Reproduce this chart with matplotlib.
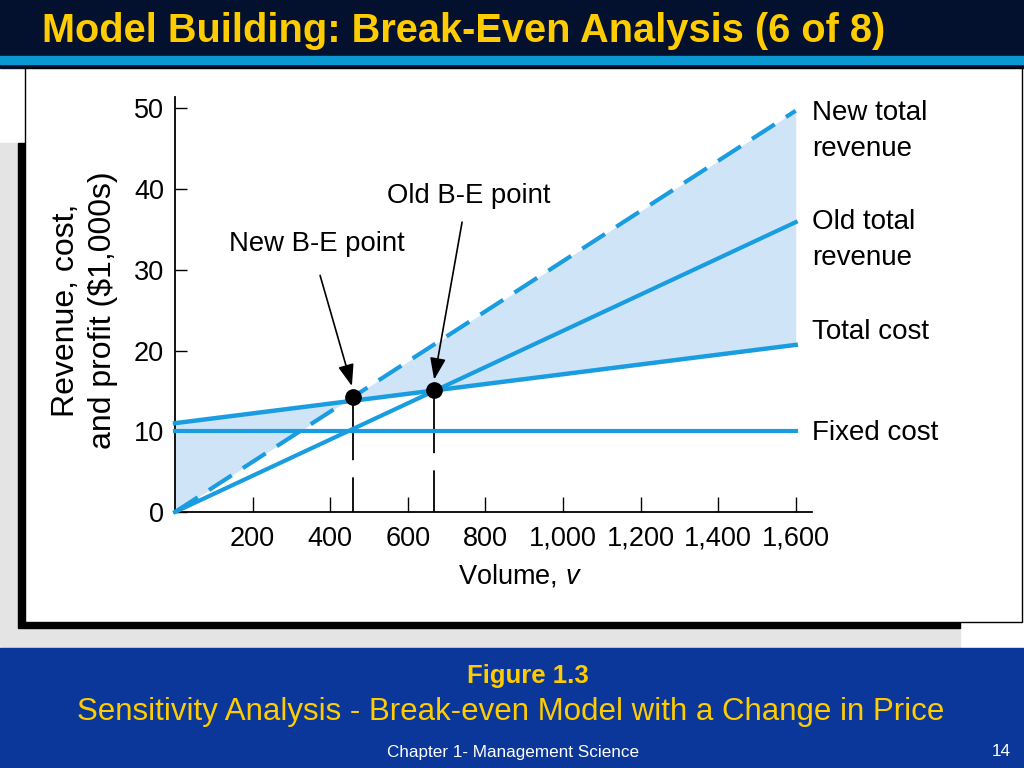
import matplotlib
matplotlib.use("Agg")
import matplotlib.pyplot as plt
from matplotlib.patches import Rectangle

# break-even model, values in $1,000s
volume = [0, 1600]
fixed_cost = [10, 10]
total_cost = [11.0, 20.7]
old_revenue = [0, 35.9]
new_revenue = [0, 49.7]

be_volume = [460, 667]
be_value = [14.2, 15.1]
be_names = ["New B-E point", "Old B-E point"]
be_label_pos = [(366, 33.2), (758, 39.2)]
be_arrow_start = [(374, 29.3), (740, 35.9)]
be_arrow_tip = [(456, 15.6), (668, 16.4)]

x_ticks = [200, 400, 600, 800, 1000, 1200, 1400, 1600]
y_ticks = [0, 10, 20, 30, 40, 50]

line_names = ["New total\nrevenue", "Old total\nrevenue", "Total cost", "Fixed cost"]
line_ends = [new_revenue[-1], old_revenue[-1], total_cost[-1], fixed_cost[-1]]
name_shift = [-14.5, -12.7, 9, -1]

BLUE = "#1a9de0"
FILL = "#cfe5f7"
YELLOW = "#ffcc00"
sans = ["Liberation Sans", "DejaVu Sans"]

plt.rcParams["mathtext.fontset"] = "custom"
plt.rcParams["mathtext.it"] = "Liberation Sans:italic"
plt.rcParams["mathtext.rm"] = "Liberation Sans"

fig = plt.figure(figsize=(10.24, 7.68), dpi=100)
fig.patch.set_facecolor("white")

# slide background, drawn in pixel units
bg = fig.add_axes([0, 0, 1, 1])
bg.set_xlim(0, 1024)
bg.set_ylim(768, 0)
bg.axis("off")
bg.add_patch(Rectangle((0, 0), 1024, 68, color="#03112f"))
bg.add_patch(Rectangle((0, 56), 1024, 8, color="#0a98d2"))
bg.add_patch(Rectangle((0, 143), 960, 505, color="#e4e4e4"))
bg.add_patch(Rectangle((18, 143), 942, 485, color="black"))
bg.add_patch(Rectangle((25, 68), 997, 554, facecolor="white", edgecolor="black", lw=1))
bg.add_patch(Rectangle((0, 648), 1024, 120, color="#0a3799"))
bg.text(42, 31, "Model Building: Break-Even Analysis (6 of 8)", color=YELLOW,
        fontsize=28.6, fontweight="bold", family=sans, va="center", ha="left")
bg.text(528, 676, "Figure 1.3", color=YELLOW, fontsize=18.5, fontweight="bold",
        family=sans, ha="center", va="center")
bg.text(511, 712, "Sensitivity Analysis - Break-even Model with a Change in Price",
        color=YELLOW, fontsize=22.5, family=sans, ha="center", va="center")
bg.text(513, 752, "Chapter 1- Management Science", color="white", fontsize=12.3,
        family=sans, ha="center", va="center")
bg.text(1001, 752, "14", color="white", fontsize=12.3, family=sans,
        ha="center", va="center")

ax = fig.add_axes([175 / 1024, 256 / 768, 637 / 1024, 415 / 768])
ax.set_facecolor("none")

ax.fill_between(volume, total_cost, new_revenue, color=FILL, lw=0, zorder=1)
ax.plot(volume, fixed_cost, color=BLUE, lw=3, clip_on=False, zorder=3)
ax.plot(volume, total_cost, color=BLUE, lw=3.2, clip_on=False, zorder=3)
ax.plot(volume, old_revenue, color=BLUE, lw=3, clip_on=False, zorder=3)
ax.plot(volume, new_revenue, color=BLUE, lw=3, ls=(0, (6.5, 3.2)),
        clip_on=False, zorder=3)

for v, y in zip(be_volume, be_value):
    ax.plot([v, v], [y, 0], color="black", lw=1.3, ls=(0, (35, 9.5)), zorder=2)
ax.plot(be_volume, be_value, "o", color="black", ms=11, zorder=5)

for name, pos, start, tip in zip(be_names, be_label_pos, be_arrow_start, be_arrow_tip):
    ax.text(pos[0], pos[1], name, fontsize=19.8, family=sans, ha="center", va="center")
    ax.annotate("", xy=tip, xytext=start,
                arrowprops=dict(arrowstyle="-|>,head_length=0.6,head_width=0.22",
                                color="black", lw=1.2, mutation_scale=22,
                                shrinkA=0, shrinkB=0), zorder=6)

for name, y, dy in zip(line_names, line_ends, name_shift):
    ax.annotate(name, xy=(volume[-1], y), xytext=(12, dy), textcoords="offset points",
                fontsize=20, family=sans, ha="left", va="center",
                linespacing=1.5, annotation_clip=False)

ax.set_xlim(0, 1642)
ax.set_ylim(0, 51.4)
ax.set_xticks(x_ticks)
ax.set_xticklabels([f"{v:,}" for v in x_ticks])
ax.set_yticks(y_ticks)
for lab in ax.get_xticklabels() + ax.get_yticklabels():
    lab.set_family(sans)
    lab.set_fontsize(19.5)
ax.tick_params(axis="x", direction="in", length=11, width=1, pad=10)
ax.tick_params(axis="y", direction="in", length=8.5, width=1, pad=8)
for side in ["top", "right"]:
    ax.spines[side].set_visible(False)
for side in ["left", "bottom"]:
    ax.spines[side].set_linewidth(1.3)

ax.set_xlabel("Volume, $v$", fontsize=19.5, family=sans, va="top")
ax.xaxis.set_label_coords(0.542, -0.122)
ax.set_ylabel("Revenue, cost,\nand profit ($1,000s)", fontsize=23, family=sans,
              linespacing=1.3)
ax.yaxis.set_label_coords(-0.09, 0.487)

fig.savefig("out.png", dpi=100)
